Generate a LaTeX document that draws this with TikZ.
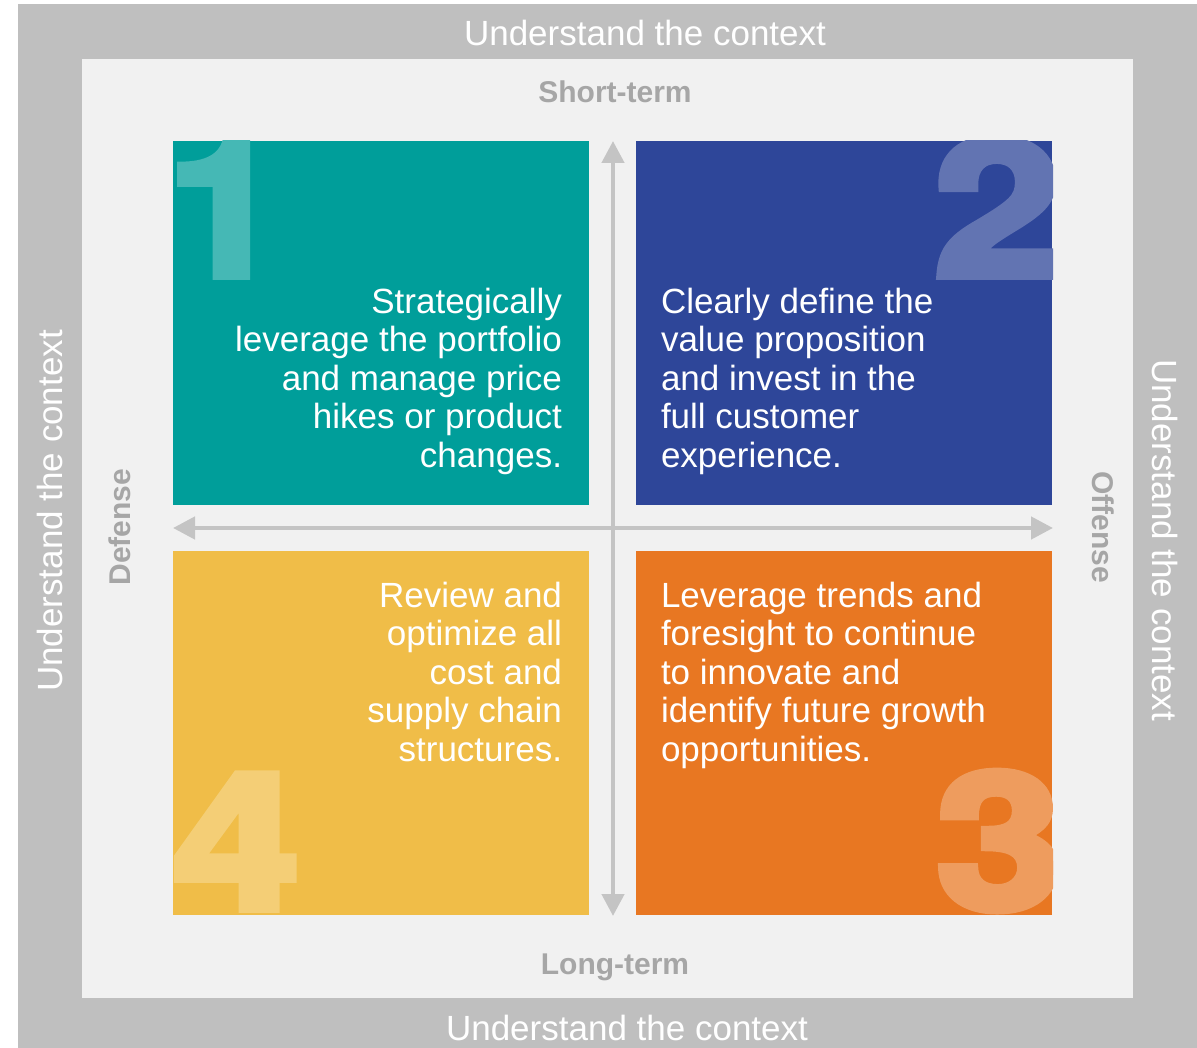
\documentclass[tikz,border=0pt]{standalone}
\usepackage{fontspec}
\setmainfont{Liberation Sans}
\newfontfamily\numfont[FakeBold=4]{TeX Gyre Heros Bold}
\usetikzlibrary{arrows.meta}
\definecolor{outergray}{HTML}{BFBFBF}
\definecolor{innergray}{HTML}{F1F1F1}
\definecolor{axisgray}{HTML}{C4C4C4}
\definecolor{labelgray}{HTML}{A6A6A6}
\definecolor{tealq}{HTML}{009E9A}
\definecolor{blueq}{HTML}{2E4699}
\definecolor{orangeq}{HTML}{E87722}
\definecolor{yellowq}{HTML}{F0BD48}
\begin{document}
\begin{tikzpicture}[x=1pt,y=-1pt,
  quad/.style={draw=none, inner sep=0pt, outer sep=0pt, minimum width=416pt, minimum height=364pt, anchor=north west},
  bignum/.style={inner sep=0pt, outer sep=0pt, anchor=base west, font=\fontsize{190}{190}\selectfont\numfont},
  bodytext/.style={text=white, inner sep=0pt, outer sep=0pt, font=\fontsize{35}{38.5}\selectfont},
  ctxlabel/.style={text=white, inner sep=0pt, font=\fontsize{35}{40}\selectfont},
  axislabel/.style={text=labelgray, inner sep=0pt, font=\fontsize{30}{34}\selectfont\bfseries},
  axisline/.style={draw=axisgray, line width=4.5pt, {Triangle[width=22pt,length=22pt]}-{Triangle[width=22pt,length=22pt]}}
]
\useasboundingbox (0,0) rectangle (1197,1048);
\fill[white] (0,0) rectangle (1197,1048);
\fill[outergray] (18,4) rectangle (1197,1048);
\fill[innergray] (82,59) rectangle (1133,998);

% quadrants
\node[quad, fill=tealq] (q1) at (173,141) {};
\node[quad, fill=blueq] (q2) at (636,141) {};
\node[quad, fill=yellowq] (q4) at (173,551) {};
\node[quad, fill=orangeq] (q3) at (636,551) {};

% big numerals (white at about 27% over each quadrant)
\begin{scope}
  \clip (173,141) rectangle (589,505);
  \node[bignum, text=white!27!tealq, xscale=1.1] (n1) at (167,276) {1};
\end{scope}
\begin{scope}
  \clip (636,141) rectangle (1053,505);
  \node[bignum, text=white!25!blueq, xscale=1.2] (n2) at (934,276) {2};
\end{scope}
\begin{scope}
  \clip (173,551) rectangle (589,916);
  \node[bignum, text=white!25!yellowq, xscale=1.2] (n4) at (173,909) {4};
\end{scope}
\begin{scope}
  \clip (636,551) rectangle (1053,916);
  \node[bignum, text=white!27!orangeq, xscale=1.2] (n3) at (936,909) {3};
\end{scope}

% quadrant texts
\node[bodytext, align=right, anchor=north east] (t1) at (562,288) {Strategically\\leverage the portfolio\\and manage price\\hikes or product\\changes.};
\node[bodytext, align=left, anchor=north west] (t2) at (661,288) {Clearly define the\\value proposition\\and invest in the\\full customer\\experience.};
\node[bodytext, align=right, anchor=north east] (t4) at (562,582) {Review and\\optimize all\\cost and\\supply chain\\structures.};
\node[bodytext, align=left, anchor=north west] (t3) at (661,582) {Leverage trends and\\foresight to continue\\to innovate and\\identify future growth\\opportunities.};

% axes
\coordinate (vtop) at (613,141);
\coordinate (vbot) at (613,916);
\coordinate (hleft) at (173,528);
\coordinate (hright) at (1053,528);
\draw[axisline] (vbot) -- (vtop);
\draw[axisline] (hleft) -- (hright);

% axis labels
\node[axislabel, anchor=base] (short) at (615,103) {Short-term};
\node[axislabel, anchor=base] (long) at (615,974) {Long-term};
\node[axislabel, rotate=90] (def) at (120,527) {Defense};
\node[axislabel, rotate=-90] (off) at (1103,527) {Offense};

% context labels
\node[ctxlabel] (ctop) at (645,33) {Understand the context};
\node[ctxlabel] (cbot) at (627,1028) {Understand the context};
\node[ctxlabel, rotate=90] (cleft) at (50,511) {Understand the context};
\node[ctxlabel, rotate=-90] (cright) at (1165,540) {Understand the context};
\end{tikzpicture}
\end{document}
